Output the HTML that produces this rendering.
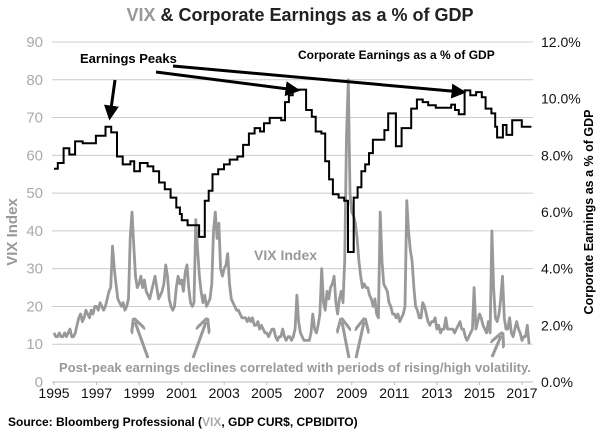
<!DOCTYPE html>
<html><head><meta charset="utf-8">
<style>
body{margin:0;background:#fff;}
svg{display:block;font-family:"Liberation Sans",sans-serif;}
</style></head>
<body>
<svg id="chart" width="600" height="433" viewBox="0 0 600 433">
<defs>
<marker id="ah" markerWidth="5" markerHeight="5" refX="3.5" refY="2.5" orient="auto"><path d="M0,0 L5,2.5 L0,5 Z" fill="#000"/></marker>
<marker id="ahg" markerWidth="5" markerHeight="5" refX="3.5" refY="2.5" orient="auto"><path d="M0,0 L5,2.5 L0,5" fill="none" stroke="#999" stroke-width="1"/></marker>
</defs>
<text x="300" y="21" text-anchor="middle" font-size="18" font-weight="bold" fill="#222"><tspan fill="#999">VIX</tspan> &amp; Corporate Earnings as a % of GDP</text>
<g id="grid"></g>
<g id="leftTicks"></g>
<g id="rightTicks"></g>
<g id="xTicks"></g>
<text transform="translate(17,232) rotate(-90)" text-anchor="middle" font-size="15" font-weight="bold" fill="#999">VIX Index</text>
<text transform="translate(593,212) rotate(-90)" text-anchor="middle" font-size="12.5" font-weight="bold" fill="#000">Corporate Earnings as a % of GDP</text>
<path id="vixLine" fill="none" stroke="#999" stroke-width="2.8" stroke-linejoin="round"/>
<path id="earnLine" fill="none" stroke="#000" stroke-width="2"/>
<text x="80" y="63" font-size="13" font-weight="bold" fill="#000">Earnings Peaks</text>
<text x="298" y="59" font-size="12" font-weight="bold" fill="#000">Corporate Earnings as a % of GDP</text>
<text x="254" y="260" font-size="14" font-weight="bold" fill="#999">VIX Index</text>
<line x1="115" y1="80" x2="110" y2="116" stroke="#000" stroke-width="3" marker-end="url(#ah)"/>
<line x1="156" y1="72" x2="296" y2="90" stroke="#000" stroke-width="3" marker-end="url(#ah)"/>
<line x1="173" y1="66" x2="462" y2="92" stroke="#000" stroke-width="3" marker-end="url(#ah)"/>
<g stroke="#999" stroke-width="3" marker-end="url(#ahg)">
<line x1="148" y1="358" x2="135" y2="322"/>
<line x1="193" y1="358" x2="206" y2="322"/>
<line x1="349" y1="358" x2="342" y2="322"/>
<line x1="356" y1="358" x2="364" y2="322"/>
<line x1="492" y1="357" x2="501" y2="336"/>
</g>
<text x="59" y="372" font-size="13" font-weight="bold" fill="#999" textLength="472">Post-peak earnings declines correlated with periods of rising/high volatility.</text>
<text x="8" y="426" font-size="12" font-weight="bold" fill="#000">Source: Bloomberg Professional (<tspan fill="#aaa">VIX</tspan>, GDP CUR$, CPBIDITO)</text>
</svg>
<script>
const leftTicks=[0,10,20,30,40,50,60,70,80,90];
const rightTicks=["0.0%","2.0%","4.0%","6.0%","8.0%","10.0%","12.0%"];
const yearTicks=[1995,1997,1999,2001,2003,2005,2007,2009,2011,2013,2015,2017];
const earnYears=[1995.0,1995.18,1995.45,1995.72,1995.99,1996.35,1996.97,1997.42,1997.69,1997.96,1998.23,1998.59,1998.77,1999.04,1999.40,1999.67,1999.94,2000.21,2000.48,2000.75,2000.92,2001.01,2001.28,2001.82,2002.09,2002.27,2002.45,2002.72,2002.99,2003.26,2003.62,2003.89,2004.16,2004.43,2004.69,2004.87,2005.14,2005.68,2005.86,2006.04,2006.22,2006.85,2007.12,2007.30,2007.57,2007.75,2007.93,2008.11,2008.38,2008.64,2008.82,2009.09,2009.27,2009.45,2009.63,2009.81,2009.99,2010.53,2010.71,2011.07,2011.34,2011.79,2012.06,2012.33,2012.59,2012.95,2013.67,2013.85,2014.03,2014.30,2014.57,2014.84,2015.11,2015.29,2015.56,2015.74,2015.83,2016.10,2016.27,2016.54,2016.99];
const earnPct=[7.53,7.73,8.25,8.03,8.49,8.43,8.69,9.01,8.81,7.96,7.68,7.79,7.44,7.73,7.61,7.44,7.04,6.8,6.51,6.16,5.93,5.71,5.53,5.12,6.4,6.75,7.33,7.51,7.68,7.85,7.96,8.37,8.77,8.96,8.84,9.13,9.32,9.24,9.88,10.12,10.32,9.6,9.36,8.84,8.77,7.79,7.15,6.63,6.51,6.4,4.59,6.51,6.87,7.44,7.68,8.08,8.55,8.89,9.48,8.32,8.96,9.65,9.97,9.88,9.77,9.68,9.79,9.6,9.45,10.29,10.12,10.23,10.05,9.65,9.48,9.01,8.63,9.07,8.72,9.24,9.01];
const earnEnd=2017.44;
const vixStart=1995.0;
const vixMonthly=[
13,12,12,13,12,12,13,12,13,14,12,12,
13,15,17,18,16,17,19,18,17,19,18,20,
20,19,21,20,19,20,22,24,25,36,30,26,
22,21,20,21,19,20,22,38,45,36,28,25,
26,28,25,27,24,23,22,24,26,28,25,22,
23,24,26,31,28,22,20,19,20,25,28,26,
27,24,29,31,25,21,20,21,43,35,28,24,
21,23,20,21,22,26,40,45,38,42,30,28,
30,31,34,26,22,21,20,19,19,18,17,17,
17,16,17,16,17,15,15,16,14,15,14,13,
13,12,13,14,14,12,11,12,12,14,12,11,
12,12,11,12,14,23,16,13,12,11,11,11,
11,13,18,14,13,15,18,30,21,19,24,22,
25,26,28,21,18,22,24,21,32,65,80,50,
45,44,42,38,32,28,25,26,25,25,23,22,
20,22,18,17,45,32,26,25,24,21,20,18,
18,17,18,16,17,18,20,48,40,35,32,25,
20,19,17,17,21,20,18,16,15,16,16,17,
14,15,13,14,14,17,14,14,14,14,13,14,
15,16,14,14,12,11,12,13,14,25,14,16,
18,17,15,14,13,16,13,40,25,17,16,18,
22,28,17,14,14,17,13,12,14,16,14,13,
11,12,12,15,10];

const X0=54,X1=522,Y0=382,Y90=42;
const xs=y=>X0+(y-1995)*(X1-X0)/22;
const yv=v=>Y0-v*(Y0-Y90)/90;
const yp=p=>yv(p*7.5);
const NS="http://www.w3.org/2000/svg";
function mk(tag,parent){const e=document.createElementNS(NS,tag);parent.appendChild(e);return e;}
const grid=document.getElementById('grid'),lt=document.getElementById('leftTicks'),rt=document.getElementById('rightTicks'),xt=document.getElementById('xTicks');
leftTicks.forEach(v=>{
  const l=mk('line',grid);
  
  
  l.setAttribute('x1',X0-2);l.setAttribute('x2',533);l.setAttribute('y1',yv(v));l.setAttribute('y2',yv(v));
  l.setAttribute('stroke',v===0?'#bbb':'#ccc');l.setAttribute('stroke-width','1');
  const t=mk('text',lt);
  
  
  t.setAttribute('x',43);t.setAttribute('y',yv(v)+5);t.setAttribute('text-anchor','end');
  t.setAttribute('font-size','15');t.setAttribute('fill','#aaa');t.textContent=v;
});
rightTicks.forEach((s,i)=>{
  const t=mk('text',rt);
  
  
  t.setAttribute('x',541);t.setAttribute('y',yp(i*2)+5);t.setAttribute('font-size','14');t.setAttribute('fill','#111');t.textContent=s;
});
yearTicks.forEach(y=>{
  const t=mk('text',xt);
  
  
  t.setAttribute('x',xs(y));t.setAttribute('y',398);t.setAttribute('text-anchor','middle');t.setAttribute('font-size','14');t.setAttribute('fill','#111');t.textContent=y;
  const k=mk('line',xt);
  
  
  k.setAttribute('x1',xs(y));k.setAttribute('x2',xs(y));k.setAttribute('y1',Y0);k.setAttribute('y2',Y0+3);k.setAttribute('stroke','#bbb');
});
let d='';
vixMonthly.forEach((v,i)=>{d+=(i?'L':'M')+xs(vixStart+i/12).toFixed(1)+','+yv(v).toFixed(1);});
document.getElementById('vixLine').setAttribute('d',d);
let e='';
earnYears.forEach((y,i)=>{
  const x=xs(y).toFixed(1),yy=yp(earnPct[i]).toFixed(1);
  e+=(i?'V'+yy:'M'+x+','+yy);
  const nx=i<earnYears.length-1?earnYears[i+1]:earnEnd;
  e+='H'+xs(nx).toFixed(1);
});
document.getElementById('earnLine').setAttribute('d',e);
</script>
</body></html>
